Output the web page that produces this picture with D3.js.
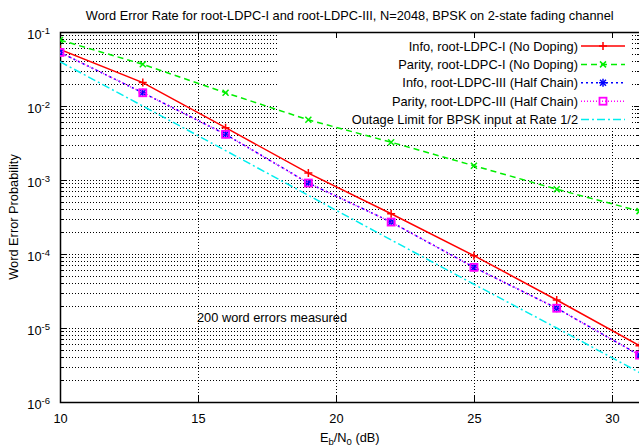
<!DOCTYPE html>
<html lang="en">
<head>
    <meta charset="UTF-8">
    <title>Word Error Rate</title>
    <style>
        body { margin: 0; background: #fff; }
        svg { display: block; font-family: "Liberation Sans", Arial, sans-serif; }
        .grid line { stroke: #000; stroke-width: 1; stroke-dasharray: 1,2; shape-rendering: crispEdges; }
        .axis path { display: none; }
        .axis line { stroke: #000; shape-rendering: crispEdges; }
        .axis text { font-size: 12.8px; fill: #000; font-family: "Liberation Sans", Arial, sans-serif; }
    </style>
</head>
<body>
<div id="chart"></div>
<script src="https://d3js.org/d3.v7.min.js"></script>
<script>
    // Eb/N0 points (dB)
    const ebn0 = [10, 13, 16, 19, 22, 25, 28, 31];

    const infoI = [0.0583, 0.0207, 0.0051, 0.00124, 3.5e-4, 9.5e-5, 2.39e-5, 5.77e-6];
    const parityI = [0.078, 0.0366, 0.0151, 0.0065, 0.00324, 0.00156, 7.5e-4, 3.8e-4];
    const infoIII = [0.053, 0.0151, 0.00414, 9.1e-4, 2.7e-4, 6.6e-5, 1.85e-5, 4.3e-6];
    const parityIII = [0.053, 0.0151, 0.00414, 9.1e-4, 2.7e-4, 6.6e-5, 1.85e-5, 4.3e-6];
    const outage = [0.0397, 0.0100, 0.0025, 6.2e-4, 1.55e-4, 3.9e-5, 1.0e-5, 2.5e-6];

    const xTicks = [10, 15, 20, 25, 30];
    const yExponents = [-6, -5, -4, -3, -2, -1];

    const seriesNames = [
        "Info, root-LDPC-I (No Doping)",
        "Parity, root-LDPC-I (No Doping)",
        "Info, root-LDPC-III (Half Chain)",
        "Parity, root-LDPC-III (Half Chain)",
        "Outage Limit for BPSK input at Rate 1/2"
    ];

    const width = 639, height = 446;
    const mLeft = 60, mRight = 639.5, mTop = 32, mBottom = 402;
    const fs = "12.8px";

    const svg = d3.select("#chart").append("svg")
        .attr("width", width)
        .attr("height", height);

    const x = d3.scaleLinear().domain([10, 31]).range([mLeft, mRight]);
    const y = d3.scaleLog().domain([1e-6, 1e-1]).range([mBottom, mTop]);

    // minor log values
    const yMinor = [];
    yExponents.slice(0, -1).forEach(e => {
        for (let m = 2; m <= 9; m++) yMinor.push(m * Math.pow(10, e));
    });
    const yMajor = yExponents.map(e => Math.pow(10, e));

    // key area, grid skips it
    const key = { x0: 279, x1: 632, y0: 33, y1: 128 };

    // grid
    const grid = svg.append("g").attr("class", "grid");
    function hLine(v) {
        const yy = Math.round(y(v)) + 0.5;
        if (yy > key.y0 && yy < key.y1) {
            grid.append("line").attr("x1", mLeft).attr("x2", key.x0).attr("y1", yy).attr("y2", yy);
            grid.append("line").attr("x1", key.x1).attr("x2", mRight).attr("y1", yy).attr("y2", yy);
        } else {
            grid.append("line").attr("x1", mLeft).attr("x2", mRight).attr("y1", yy).attr("y2", yy);
        }
    }
    yMinor.concat(yMajor.slice(1, -1)).forEach(hLine);
    xTicks.slice(1).forEach(v => {
        const xx = Math.round(x(v)) + 0.5;
        const y0 = (xx > key.x0 && xx < key.x1) ? key.y1 : mTop;
        grid.append("line").attr("x1", xx).attr("x2", xx).attr("y1", y0).attr("y2", mBottom);
    });

    // axes (ticks point inward)
    svg.append("g").attr("class", "axis")
        .attr("transform", `translate(0,${mBottom})`)
        .call(d3.axisBottom(x).tickValues(xTicks).tickSizeInner(-6).tickSizeOuter(0).tickPadding(12));

    svg.append("g").attr("class", "axis")
        .attr("transform", `translate(0,${mTop})`)
        .call(d3.axisTop(x).tickValues(xTicks).tickSizeInner(-6).tickSizeOuter(0).tickFormat(""));

    const yAxis = svg.append("g").attr("class", "axis")
        .attr("transform", `translate(${mLeft},0)`)
        .call(d3.axisLeft(y).tickValues(yMajor).tickSizeInner(-6).tickSizeOuter(0).tickPadding(10));
    yAxis.selectAll(".tick text").each(function(d) {
        const t = d3.select(this).text(null).attr("dy", "0.5em");
        t.append("tspan").text("10");
        t.append("tspan").attr("dy", -5).attr("font-size", "9.5px").text(Math.round(Math.log10(d)));
    });
    svg.append("g").attr("class", "axis")
        .attr("transform", `translate(${mLeft},0)`)
        .call(d3.axisLeft(y).tickValues(yMinor).tickSizeInner(-3).tickSizeOuter(0).tickFormat(""));
    svg.append("g").attr("class", "axis")
        .attr("transform", `translate(${mRight},0)`)
        .call(d3.axisRight(y).tickValues(yMajor).tickSizeInner(-6).tickSizeOuter(0).tickFormat(""));
    svg.append("g").attr("class", "axis")
        .attr("transform", `translate(${mRight},0)`)
        .call(d3.axisRight(y).tickValues(yMinor).tickSizeInner(-3).tickSizeOuter(0).tickFormat(""));

    // border
    svg.append("rect")
        .attr("x", mLeft + 0.5).attr("y", mTop + 0.5)
        .attr("width", mRight - mLeft).attr("height", mBottom - mTop)
        .attr("fill", "none").attr("stroke", "#000").attr("stroke-width", 1.5);

    // markers
    function plus(g, cx, cy, color) {
        g.append("path").attr("d", `M${cx - 4},${cy}H${cx + 4}M${cx},${cy - 4}V${cy + 4}`)
            .attr("stroke", color).attr("stroke-width", 1.5).attr("fill", "none");
    }
    function cross(g, cx, cy, color) {
        g.append("path").attr("d", `M${cx - 3},${cy - 3}L${cx + 3},${cy + 3}M${cx - 3},${cy + 3}L${cx + 3},${cy - 3}`)
            .attr("stroke", color).attr("stroke-width", 1.5).attr("fill", "none");
    }
    function star(g, cx, cy, color) {
        plus(g, cx, cy, color);
        cross(g, cx, cy, color);
    }
    function square(g, cx, cy, color) {
        g.append("rect").attr("x", cx - 3.5).attr("y", cy - 3.5).attr("width", 7).attr("height", 7)
            .attr("stroke", color).attr("stroke-width", 1.8).attr("fill", "none");
    }

    const series = [
        { values: infoI, color: "#ff0000", dash: null, marker: plus },
        { values: parityI, color: "#00ee00", dash: "6,4", marker: cross },
        { values: infoIII, color: "#0000ff", dash: "2,3", marker: star },
        { values: parityIII, color: "#ff00ff", dash: "1,2", marker: square },
        { values: outage, color: "#00eeee", dash: "8,3,2,3", marker: null }
    ];

    svg.append("clipPath").attr("id", "clip")
        .append("rect").attr("x", mLeft).attr("y", mTop).attr("width", mRight - mLeft).attr("height", mBottom - mTop);

    const plot = svg.append("g").attr("clip-path", "url(#clip)");
    const line = d3.line().x(d => x(d[0])).y(d => y(d[1]));

    series.forEach(s => {
        const pts = ebn0.map((e, i) => [e, s.values[i]]);
        plot.append("path")
            .attr("d", line(pts))
            .attr("fill", "none")
            .attr("stroke", s.color)
            .attr("stroke-width", 1.5)
            .attr("stroke-dasharray", s.dash);
        if (s.marker) pts.forEach(p => s.marker(plot, x(p[0]), y(p[1]), s.color));
    });

    // legend
    const legend = svg.append("g").attr("font-size", fs);
    series.forEach((s, i) => {
        const cy = 46 + i * 18.4;
        legend.append("text")
            .attr("x", 578).attr("y", cy + 4.5)
            .attr("text-anchor", "end")
            .text(seriesNames[i]);
        legend.append("line")
            .attr("x1", 581).attr("x2", 625).attr("y1", cy).attr("y2", cy)
            .attr("stroke", s.color).attr("stroke-width", 1.5)
            .attr("stroke-dasharray", s.dash);
        if (s.marker) s.marker(legend, 603, cy, s.color);
    });

    // annotation
    svg.append("text")
        .attr("x", 197).attr("y", 322)
        .attr("font-size", fs)
        .text("200 word errors measured");

    // title
    svg.append("text")
        .attr("x", (mLeft + mRight) / 2).attr("y", 20)
        .attr("text-anchor", "middle")
        .attr("font-size", fs)
        .text("Word Error Rate for root-LDPC-I and root-LDPC-III, N=2048, BPSK on 2-state fading channel");

    // axis labels
    const xl = svg.append("text")
        .attr("x", (mLeft + mRight) / 2).attr("y", 442)
        .attr("text-anchor", "middle")
        .attr("font-size", fs);
    xl.append("tspan").text("E");
    xl.append("tspan").attr("font-size", "9.5px").attr("dy", 3).text("b");
    xl.append("tspan").attr("dy", -3).text("/N");
    xl.append("tspan").attr("font-size", "9.5px").attr("dy", 3).text("0");
    xl.append("tspan").attr("dy", -3).text(" (dB)");

    svg.append("text")
        .attr("transform", `translate(18,${(mTop + mBottom) / 2}) rotate(-90)`)
        .attr("text-anchor", "middle")
        .attr("font-size", fs)
        .text("Word Error Probability");
</script>
</body>
</html>
